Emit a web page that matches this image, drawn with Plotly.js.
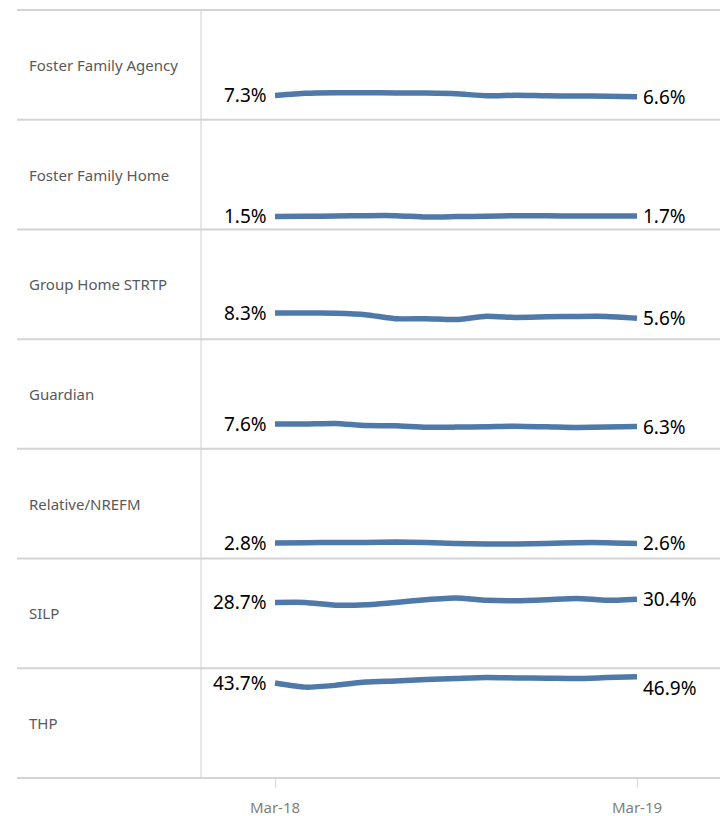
<!DOCTYPE html>
<html>
<head>
<meta charset="utf-8">
<script src="https://cdn.plot.ly/plotly-3.0.1.min.js"></script>
<style>html,body{margin:0;padding:0;background:#fff;}#chart{width:720px;height:816px;}</style>
</head>
<body>
<div id="chart"></div>
<script>
const months = ['Mar-18','Apr-18','May-18','Jun-18','Jul-18','Aug-18','Sep-18','Oct-18','Nov-18','Dec-18','Jan-19','Feb-19','Mar-19'];
const tickLabels = ['Mar-18','Mar-19'];
const categories = ['Foster Family Agency','Foster Family Home','Group Home STRTP','Guardian','Relative/NREFM','SILP','THP'];

const fosterFamilyAgency = [7.3, 8.4, 8.7, 8.7, 8.6, 8.5, 8.2, 7.1, 7.4, 7.1, 7.0, 6.9, 6.6];
const fosterFamilyHome   = [1.5, 1.6, 1.7, 1.9, 1.9, 1.2, 1.4, 1.6, 1.9, 1.8, 1.7, 1.7, 1.7];
const groupHomeSTRTP     = [8.3, 8.3, 8.1, 7.4, 5.3, 5.3, 4.9, 6.6, 6.0, 6.3, 6.5, 6.5, 5.6];
const guardian           = [7.6, 7.6, 7.9, 6.8, 6.7, 5.9, 6.0, 6.2, 6.5, 6.2, 5.8, 6.0, 6.3];
const relativeNREFM      = [2.8, 3.0, 3.1, 3.1, 3.3, 3.1, 2.6, 2.3, 2.3, 2.6, 3.0, 3.0, 2.6];
const silp               = [28.7, 28.7, 27.3, 27.5, 28.7, 30.1, 31.0, 29.8, 29.6, 30.1, 30.8, 29.8, 30.4];
const thp                = [43.7, 41.6, 42.5, 44.2, 44.8, 45.5, 46.0, 46.5, 46.3, 46.2, 46.0, 46.5, 46.9];

const seriesValues = [fosterFamilyAgency, fosterFamilyHome, groupHomeSTRTP, guardian, relativeNREFM, silp, thp];

// styling / layout settings
const lineColor = '#4e79a8';
const gridColor = '#d4d4d4';
const n = categories.length;
const endLabelYShift = {6: -11};
const leftExtent = -(201 - 17) / 519;
const catLabelX = -(201 - 27) / 519;

const traces = [];
const annotations = [];
const layout = {
  width: 720, height: 816,
  margin: {l: 201, r: 0, t: 10, b: 38},
  paper_bgcolor: '#ffffff', plot_bgcolor: '#ffffff',
  showlegend: false,
  font: {family: 'Noto Sans, sans-serif'},
  xaxis: {
    type: 'category',
    categoryorder: 'array', categoryarray: months,
    range: [-2.453, 14.751],
    showgrid: false, zeroline: false, showline: false,
    ticks: 'outside', ticklen: 9, tickwidth: 1, tickcolor: '#d9d9d9',
    tickvals: tickLabels, ticktext: tickLabels,
    tickfont: {size: 15, color: '#7f7f7f', family: 'Noto Sans, sans-serif'},
    ticklabelstandoff: 7,
    anchor: 'y' + n,
    fixedrange: true
  },
  shapes: [],
  annotations: annotations
};

seriesValues.forEach((vals, i) => {
  const yName = i === 0 ? 'y' : 'y' + (i + 1);
  const axKey = i === 0 ? 'yaxis' : 'yaxis' + (i + 1);
  layout[axKey] = {
    domain: [1 - (i + 1) / n, 1 - i / n],
    range: [-5.2, 51.3],
    visible: false, fixedrange: true
  };
  traces.push({
    type: 'scatter', mode: 'lines',
    x: months, y: vals,
    xaxis: 'x', yaxis: yName,
    line: {color: lineColor, width: 5.5, shape: 'spline', smoothing: 0.5},
    hoverinfo: 'skip',
    cliponaxis: false
  });
  const fmt = v => v.toFixed(1) + '%';
  annotations.push({
    x: months[0], y: vals[0], xref: 'x', yref: yName,
    text: fmt(vals[0]), showarrow: false,
    xanchor: 'right', yanchor: 'middle', xshift: -6,
    font: {size: 19, color: '#000000', family: 'Noto Sans, sans-serif'}
  });
  annotations.push({
    x: months[months.length - 1], y: vals[vals.length - 1], xref: 'x', yref: yName,
    text: fmt(vals[vals.length - 1]), showarrow: false,
    xanchor: 'left', yanchor: 'middle', xshift: 4,
    yshift: endLabelYShift[i] || 0,
    font: {size: 19, color: '#000000', family: 'Noto Sans, sans-serif'}
  });
  annotations.push({
    x: catLabelX, y: 0.5, xref: 'paper', yref: yName + ' domain',
    text: categories[i], showarrow: false,
    xanchor: 'left', yanchor: 'middle',
    font: {size: 15, color: '#595959', family: 'Noto Sans, sans-serif'}
  });
});

for (let k = 0; k <= n; k++) {
  layout.shapes.push({
    type: 'line', xref: 'paper', yref: 'paper',
    x0: leftExtent, x1: 1, y0: k / n, y1: k / n,
    line: {color: gridColor, width: 2}
  });
}
layout.shapes.push({
  type: 'line', xref: 'paper', yref: 'paper',
  x0: 0, x1: 0, y0: 0, y1: 1,
  line: {color: '#cfcfcf', width: 1}
});

Plotly.newPlot('chart', traces, layout, {displayModeBar: false, staticPlot: true});
</script>
</body>
</html>
